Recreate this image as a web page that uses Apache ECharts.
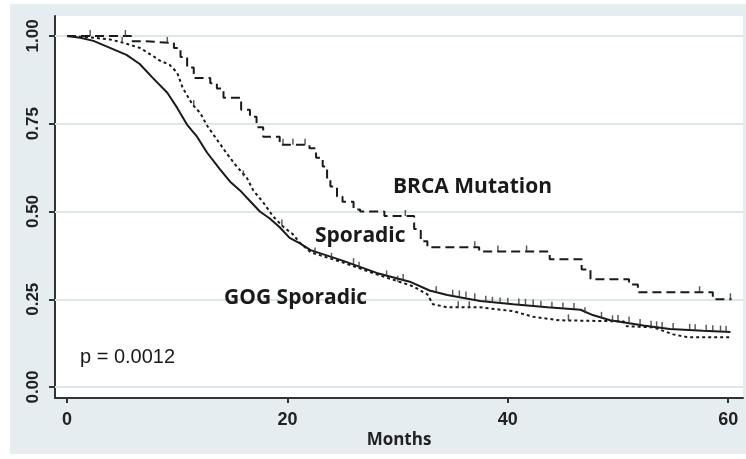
<!DOCTYPE html>
<html>
<head>
<meta charset="utf-8">
<script src="https://cdn.jsdelivr.net/npm/echarts@6/dist/echarts.min.js"></script>
<style>
  body { margin: 0; background: #fff; }
  #wrap { position: relative; width: 746px; height: 459px; background: #fff; }
  #chart { position: absolute; left: 10px; top: 4px; width: 736px; height: 450px; }
</style>
</head>
<body>
<div id="wrap"><div id="chart"></div></div>
<script>
// survival curves, [month, proportion surviving]
const brcaMutation = [
  [0, 1.0], [5.8, 0.985], [6.9, 0.98], [9.7, 0.966], [10.3, 0.94], [10.9, 0.91],
  [11.5, 0.88], [13.0, 0.865], [13.6, 0.85], [14.2, 0.824], [15.8, 0.79], [16.6, 0.77],
  [17.2, 0.74], [17.8, 0.713], [19.3, 0.69], [22.0, 0.68], [22.6, 0.653], [23.2, 0.628],
  [23.6, 0.59], [23.9, 0.571], [24.5, 0.543], [25.0, 0.528], [26.0, 0.506], [26.6, 0.50],
  [28.8, 0.487], [31.5, 0.45], [32.1, 0.415], [32.7, 0.398], [37.4, 0.386], [43.8, 0.364],
  [46.7, 0.335], [47.5, 0.307], [51.0, 0.292], [51.8, 0.27], [58.6, 0.25], [60.3, 0.25]
];
const sporadic = [
  [0, 1.0], [2.4, 0.995], [3.9, 0.99], [4.8, 0.983], [5.7, 0.975], [6.6, 0.966],
  [7.8, 0.943], [8.4, 0.93], [9.3, 0.918], [10.0, 0.895], [10.5, 0.852], [11.4, 0.804],
  [12.1, 0.78], [12.7, 0.745], [13.6, 0.705], [14.5, 0.665], [15.4, 0.628], [16.3, 0.597],
  [16.9, 0.56], [17.8, 0.526], [18.7, 0.486], [19.6, 0.457], [20.5, 0.435], [21.1, 0.412],
  [22.1, 0.384], [25.0, 0.355], [28.1, 0.321], [31.4, 0.287], [32.7, 0.264], [33.2, 0.236],
  [34.5, 0.227], [37.5, 0.227], [40.5, 0.216], [42.3, 0.20], [44.7, 0.19], [50.5, 0.187],
  [50.8, 0.173], [53.2, 0.17], [55.0, 0.15], [56.3, 0.142], [60.2, 0.142]
];
const gogSporadic = [
  [0, 1.0], [1.2, 0.995], [2.4, 0.986], [3.9, 0.966], [5.4, 0.946], [6.6, 0.92],
  [7.8, 0.88], [9.1, 0.838], [10.0, 0.795], [10.9, 0.747], [11.8, 0.713], [12.7, 0.668],
  [13.9, 0.619], [14.8, 0.585], [15.7, 0.56], [16.6, 0.53], [17.5, 0.50], [18.4, 0.48],
  [19.3, 0.455], [20.2, 0.425], [21.1, 0.41], [22.1, 0.39], [25.0, 0.36], [28.1, 0.325],
  [31.1, 0.30], [32.9, 0.275], [34.5, 0.262], [37.5, 0.245], [40.5, 0.236], [43.6, 0.227],
  [46.6, 0.22], [47.7, 0.205], [49.3, 0.19], [52.3, 0.175], [54.7, 0.165], [57.7, 0.16],
  [60.2, 0.157]
];
// censoring marks
const brcaCensored = [
  [2.1, 1.0], [5.3, 1.0], [9.1, 0.98], [19.6, 0.69], [20.5, 0.69], [21.6, 0.69],
  [30.7, 0.487], [37.0, 0.398], [39.1, 0.386], [41.7, 0.386], [57.4, 0.27], [60.2, 0.25]
];
const sporadicCensored = [
  [5.0, 0.98], [11.5, 0.8], [16.0, 0.6], [19.5, 0.46], [22.5, 0.38], [24.0, 0.365],
  [26.5, 0.34], [30.0, 0.3], [35.5, 0.227], [36.5, 0.227], [45.5, 0.19], [49.5, 0.187]
];
const gogCensored = [
  [26.0, 0.35], [29.0, 0.315], [30.5, 0.305], [33.5, 0.27], [35.0, 0.26], [35.6, 0.258],
  [36.2, 0.255], [37.0, 0.25], [38.0, 0.243], [38.6, 0.24], [39.3, 0.238], [40.0, 0.237],
  [41.0, 0.235], [41.6, 0.234], [42.3, 0.232], [43.0, 0.229], [44.0, 0.226], [45.0, 0.224],
  [46.0, 0.222], [47.0, 0.21], [48.5, 0.197], [50.0, 0.188], [51.0, 0.184], [52.0, 0.177],
  [53.0, 0.172], [53.5, 0.17], [54.0, 0.168], [55.0, 0.165], [56.5, 0.163], [57.0, 0.162],
  [58.0, 0.16], [58.6, 0.159], [59.3, 0.158], [59.8, 0.157]
];
const xTicks = [0, 20, 40, 60];
const yTicks = [0, 0.25, 0.5, 0.75, 1];

const chart = echarts.init(document.getElementById('chart'));
const axisColor = '#333';
const lineColor = '#1a1a1a';
const tickFont = { color: '#222', fontFamily: 'Liberation Sans', fontWeight: 'bold', fontSize: 18 };
const labelFont = 'bold 21px "Open Sans"';

function censorSeries(data) {
  return {
    type: 'scatter', data: data, symbol: 'rect', symbolSize: [1.5, 6], symbolOffset: [0, -3],
    itemStyle: { color: '#333' }, silent: true, z: 6
  };
}

chart.setOption({
  backgroundColor: '#e6edf0',
  animation: false,
  grid: {
    left: 45, right: 3, top: 12, bottom: 55,
    show: true, backgroundColor: '#fff', borderWidth: 0
  },
  xAxis: {
    type: 'value', min: -1.09, max: 61.34,
    name: 'Months', nameLocation: 'middle', nameGap: 34, nameMoveOverlap: false,
    nameTextStyle: { color: '#222', fontFamily: 'Open Sans', fontWeight: 'bold', fontSize: 17 },
    axisLine: { onZero: false, lineStyle: { color: axisColor, width: 2 } },
    axisTick: { customValues: xTicks, length: 5, lineStyle: { color: axisColor, width: 2 } },
    axisLabel: { customValues: xTicks, margin: 13, ...tickFont },
    splitLine: { show: false }
  },
  yAxis: {
    type: 'value', min: -0.03125, max: 1.0568,
    axisLine: { show: true, onZero: false, lineStyle: { color: axisColor, width: 2 } },
    axisTick: { show: true, customValues: yTicks, length: 6, lineStyle: { color: axisColor, width: 2 } },
    axisLabel: {
      customValues: yTicks, rotate: 90, margin: 13,
      formatter: v => v.toFixed(2), ...tickFont, fontSize: 17
    },
    splitLine: { show: false }
  },
  series: [
    {
      name: 'GOG Sporadic', type: 'line', data: gogSporadic, showSymbol: false, z: 3,
      lineStyle: { color: lineColor, width: 2 },
      markLine: {
        silent: true, symbol: 'none', label: { show: false }, z: 1,
        lineStyle: { color: '#dce7ec', width: 2, type: 'solid' },
        data: yTicks.map(v => ({ yAxis: v }))
      }
    },
    {
      name: 'Sporadic', type: 'line', data: sporadic, showSymbol: false, z: 4,
      lineStyle: { color: lineColor, width: 2, type: [3, 3] }
    },
    {
      name: 'BRCA Mutation', type: 'line', step: 'end', data: brcaMutation, showSymbol: false, z: 5,
      lineStyle: { color: lineColor, width: 2, type: [9, 5] }
    },
    censorSeries(brcaCensored),
    censorSeries(sporadicCensored),
    censorSeries(gogCensored)
  ],
  graphic: [
    { type: 'text', z: 100, x: 383, y: 183, style: { text: 'BRCA Mutation', fill: lineColor, font: labelFont, verticalAlign: 'middle' } },
    { type: 'text', z: 100, x: 305, y: 232, style: { text: 'Sporadic', fill: lineColor, font: labelFont, verticalAlign: 'middle' } },
    { type: 'text', z: 100, x: 214, y: 294, style: { text: 'GOG Sporadic', fill: lineColor, font: labelFont, verticalAlign: 'middle' } },
    { type: 'text', z: 100, x: 70, y: 353, style: { text: 'p = 0.0012', fill: lineColor, font: '20px "Liberation Sans"', verticalAlign: 'middle' } }
  ]
});
</script>
</body>
</html>
